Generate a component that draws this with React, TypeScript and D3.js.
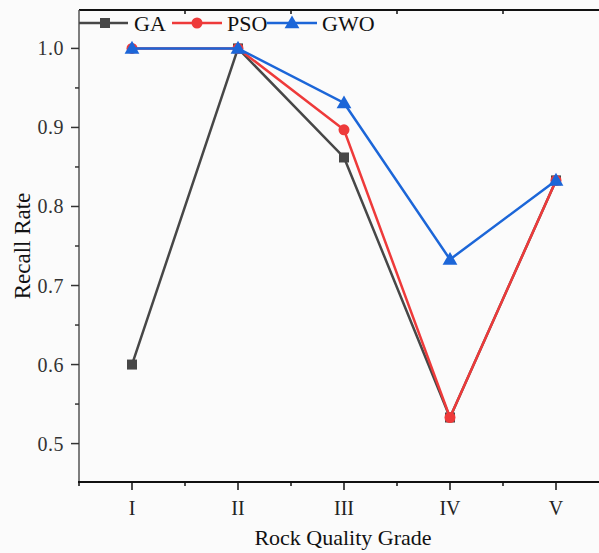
import React from "react";
import * as d3 from "d3";

const categories = ["I", "II", "III", "IV", "V"];
const seriesNames = ["GA", "PSO", "GWO"];
const gaValues = [0.6, 1.0, 0.862, 0.533, 0.833];
const psoValues = [1.0, 1.0, 0.897, 0.533, 0.833];
const gwoValues = [1.0, 1.0, 0.931, 0.733, 0.833];
const yTicks = [0.5, 0.6, 0.7, 0.8, 0.9, 1.0];
const yMinorTicks = [0.55, 0.65, 0.75, 0.85, 0.95];
const colors = ["#474747", "#ee3a3a", "#1c66d8"];
const shapes = ["square", "circle", "triangle"];

const W = 599, H = 553;
const left = 79, top = 10, bottom = 482, right = 609;
const font = "'Liberation Serif', 'Times New Roman', serif";

function Marker({ shape, x, y, color }: { shape: string; x: number; y: number; color: string }) {
  if (shape === "square") return <rect x={x - 5} y={y - 5} width={10} height={10} fill={color} />;
  if (shape === "circle") return <circle cx={x} cy={y} r={5.5} fill={color} />;
  const sym = d3.symbol().type(d3.symbolTriangle).size(95)();
  return <path d={sym || ""} transform={`translate(${x},${y + 1})`} fill={color} />;
}

export default function App() {
  const x = d3.scaleLinear().domain([0.5, 5.5]).range([left, right]);
  const y = d3.scaleLinear().domain([0.4514, 1.0486]).range([bottom, top]);
  const series = [gaValues, psoValues, gwoValues];
  const line = d3.line<number>().x((_, i) => x(i + 1)).y((v) => y(v));
  const xMinor = [1.5, 2.5, 3.5, 4.5];

  const legendItems = [
    { lx1: 79, lx2: 128, mx: 105, tx: 134 },
    { lx1: 172, lx2: 222, mx: 197, tx: 227 },
    { lx1: 267, lx2: 317, mx: 292, tx: 322 },
  ];
  const ly = 23;

  return (
    <svg width={W} height={H} style={{ position: "absolute", left: 0, top: 0, background: "#fbfbfb" }}>
      <rect x={0} y={0} width={W} height={H} fill="#fbfbfb" />
      {/* axes */}
      <line x1={left} x2={W} y1={top} y2={top} stroke="#111" strokeWidth={2} />
      <line x1={left} x2={left} y1={top} y2={bottom} stroke="#555" strokeWidth={1.5} />
      <line x1={left - 1} x2={W} y1={bottom} y2={bottom} stroke="#111" strokeWidth={2} />
      {xMinor.map((t) => (
        <line key={"tm" + t} x1={x(t)} x2={x(t)} y1={top} y2={top + 4} stroke="#111" strokeWidth={1.5} />
      ))}
      {categories.map((c, i) => (
        <g key={c}>
          <line x1={x(i + 1)} x2={x(i + 1)} y1={bottom} y2={bottom + 8} stroke="#111" strokeWidth={1.5} />
          <text x={x(i + 1)} y={515} textAnchor="middle" fontFamily={font} fontSize={20} fill="#222">{c}</text>
        </g>
      ))}
      {[0.5, ...xMinor].map((t) => (
        <line key={"bm" + t} x1={x(t)} x2={x(t)} y1={bottom} y2={bottom + 4} stroke="#111" strokeWidth={1.5} />
      ))}
      {yTicks.map((t) => (
        <g key={t}>
          <line x1={left - 8} x2={left} y1={y(t)} y2={y(t)} stroke="#333" strokeWidth={1.5} />
          <text x={64} y={y(t)} dy="0.35em" textAnchor="end" fontFamily={font} fontSize={20} fill="#333" letterSpacing={0.5}>
            {d3.format(".1f")(t)}
          </text>
        </g>
      ))}
      {yMinorTicks.map((t) => (
        <line key={"ym" + t} x1={left - 4} x2={left} y1={y(t)} y2={y(t)} stroke="#333" strokeWidth={1.5} />
      ))}
      {/* series */}
      {series.map((vals, si) => (
        <g key={seriesNames[si]}>
          <path d={line(vals) || ""} fill="none" stroke={colors[si]} strokeWidth={2.5} />
          {vals.map((v, i) => (
            <Marker key={i} shape={shapes[si]} x={x(i + 1)} y={y(v)} color={colors[si]} />
          ))}
        </g>
      ))}
      {/* legend */}
      {legendItems.map((it, i) => (
        <g key={"lg" + i}>
          <line x1={it.lx1} x2={it.lx2} y1={ly} y2={ly} stroke={colors[i]} strokeWidth={2.5} />
          <Marker shape={shapes[i]} x={it.mx} y={ly} color={colors[i]} />
          <text x={it.tx} y={ly + 8} fontFamily={font} fontSize={22} fill="#111">{seriesNames[i]}</text>
        </g>
      ))}
      {/* titles */}
      <text x={343} y={545} textAnchor="middle" fontFamily={font} fontSize={22} fill="#111">Rock Quality Grade</text>
      <text transform="translate(30,246) rotate(-90)" textAnchor="middle" fontFamily={font} fontSize={23} fill="#111">Recall Rate</text>
    </svg>
  );
}
